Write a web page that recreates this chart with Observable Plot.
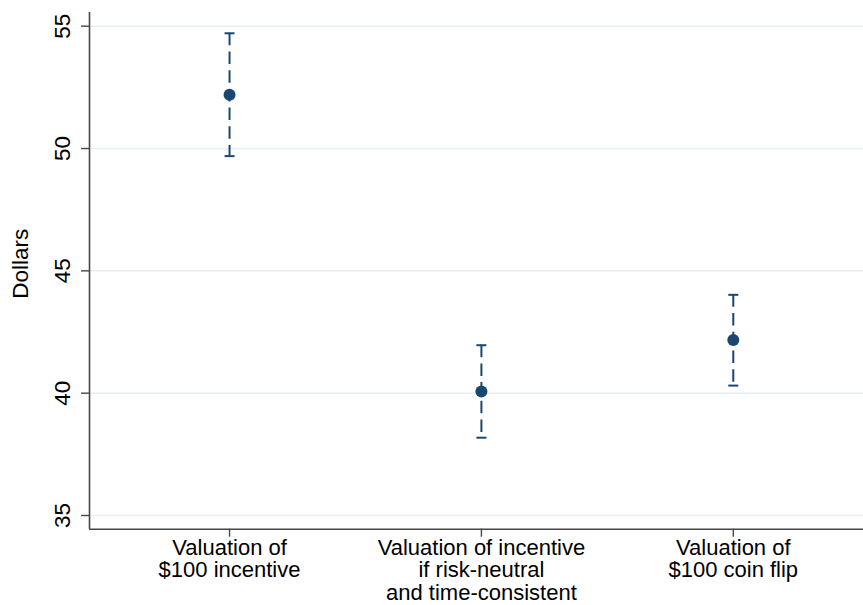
<!DOCTYPE html>
<html><head><meta charset="utf-8">
<script src="https://cdn.jsdelivr.net/npm/d3@7"></script>
<script src="https://cdn.jsdelivr.net/npm/@observablehq/plot@0.6"></script>
<style>html,body{margin:0;padding:0;background:#fff}svg{display:block}</style>
</head><body><div id="chart"></div>
<script>
const categories = ["Valuation of\n$100 incentive", "Valuation of incentive\nif risk-neutral\nand time-consistent", "Valuation of\n$100 coin flip"];
const means = [52.2, 40.07, 42.17];
const lower = [49.69, 38.18, 40.31];
const upper = [54.71, 41.96, 44.02];
const yTicks = [35, 40, 45, 50, 55];
const yLabel = "Dollars";

const data = categories.map((c, i) => ({pos: i + 1, label: c, mean: means[i], lo: lower[i], hi: upper[i]}));
const xDomain = [0.444, 3.517];
const yDomain = [34.44, 55.56];
const navy = "#1a476f";
const axisColor = "#474747";
const gridColor = "#e8eff2";
const fs = 22.5;
const capSymbol = {draw(ctx, size) { const r = Math.sqrt(size / Math.PI); ctx.moveTo(-r, 0); ctx.lineTo(r, 0); }};

const chart = Plot.plot({
  width: 863, height: 605,
  marginLeft: 89, marginRight: 0, marginTop: 12, marginBottom: 76.3,
  style: {fontFamily: "'Liberation Sans', Arial, Helvetica, sans-serif", fontSize: fs + "px", color: "#000", background: "#fff"},
  x: {domain: xDomain, axis: null},
  y: {domain: yDomain, axis: null},
  marks: [
    Plot.ruleY(yTicks, {stroke: gridColor, strokeWidth: 1.5}),
    Plot.ruleX([xDomain[0]], {stroke: axisColor, strokeWidth: 1.6}),
    Plot.ruleY([yDomain[0]], {stroke: axisColor, strokeWidth: 1.6}),
    Plot.axisY({ticks: yTicks, tickSize: 8, tickFormat: () => "", label: null, stroke: axisColor, strokeWidth: 1.4}),
    Plot.text(yTicks, {x: xDomain[0], y: d => d, text: d => String(d), dx: -27, rotate: -90, textAnchor: "middle", fontSize: fs, fill: "#000"}),
    Plot.axisX({ticks: data.map(d => d.pos), tickSize: 8, tickFormat: () => "", label: null, stroke: axisColor, strokeWidth: 1.4}),
    Plot.text(data, {x: "pos", y: yDomain[0], text: "label", dy: 9.5, lineAnchor: "top", lineHeight: 1.03, fontSize: 22, fill: "#000"}),
    Plot.text([yLabel], {frameAnchor: "left", text: d => d, dx: -68.5, dy: -7, rotate: -90, textAnchor: "middle", fontSize: fs, fill: "#000"}),
    Plot.ruleX(data, {x: "pos", y1: "hi", y2: "lo", stroke: navy, strokeWidth: 2, strokeDasharray: "12.5,6.2"}),
    Plot.dot(data, {x: "pos", y: "hi", symbol: capSymbol, r: 5, stroke: navy, strokeWidth: 2, fill: "none"}),
    Plot.dot(data, {x: "pos", y: "lo", symbol: capSymbol, r: 5, stroke: navy, strokeWidth: 2, fill: "none"}),
    Plot.dot(data, {x: "pos", y: "mean", r: 6, fill: navy, stroke: "none"})
  ]
});
document.getElementById("chart").appendChild(chart);
</script>
</body></html>
